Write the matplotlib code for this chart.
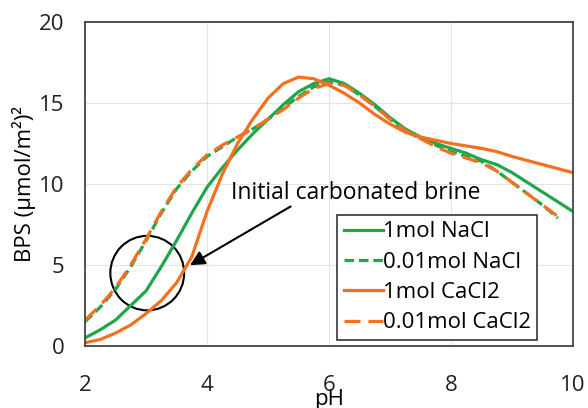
import matplotlib
matplotlib.use("Agg")
import matplotlib.pyplot as plt
from matplotlib.patches import Ellipse

plt.rcParams['font.family'] = ['Open Sans', 'DejaVu Sans']

# pH values
ph = [2.0, 2.25, 2.5, 2.75, 3.0, 3.25, 3.5, 3.75, 4.0, 4.25, 4.5, 4.75, 5.0,
      5.25, 5.5, 5.75, 6.0, 6.25, 6.5, 6.75, 7.0, 7.25, 7.5, 7.75, 8.0, 8.25,
      8.5, 8.75, 9.0, 9.25, 9.5, 9.75, 10.0]

nacl_1 = [0.5, 1.0, 1.6, 2.5, 3.4, 4.9, 6.5, 8.2, 9.8, 11.0, 12.1, 13.1, 14.0,
          14.9, 15.7, 16.2, 16.5, 16.2, 15.6, 14.9, 14.1, 13.4, 12.9, 12.5, 12.2, 11.9,
          11.5, 11.2, 10.7, 10.1, 9.5, 8.9, 8.3]

cacl2_1 = [0.2, 0.4, 0.8, 1.3, 2.0, 2.8, 3.9, 5.5, 8.3, 10.6, 12.5, 14.0, 15.3,
           16.2, 16.6, 16.5, 16.1, 15.6, 15.0, 14.3, 13.7, 13.2, 12.9, 12.7, 12.5, 12.35,
           12.2, 12.0, 11.7, 11.45, 11.2, 10.95, 10.7]

ph_low = ph[:-1]
nacl_001 = [1.5, 2.4, 3.5, 4.9, 6.5, 8.2, 9.7, 10.8, 11.7, 12.3, 12.9, 13.4, 14.0,
            14.7, 15.4, 16.0, 16.3, 16.1, 15.5, 14.8, 14.0, 13.3, 12.8, 12.4, 12.0, 11.7,
            11.4, 10.8, 10.1, 9.4, 8.7, 7.9]
cacl2_001 = [1.6, 2.5, 3.6, 5.0, 6.6, 8.3, 9.8, 10.9, 11.8, 12.4, 12.9, 13.4, 14.0,
             14.6, 15.3, 15.9, 16.2, 16.1, 15.5, 14.8, 14.0, 13.3, 12.8, 12.3, 11.9, 11.6,
             11.3, 10.8, 10.1, 9.4, 8.7, 8.0]

green = '#1fa64a'
orange = '#f4701f'

fig = plt.figure(figsize=(5.88, 4.08), dpi=100)
ax = fig.add_axes([0.1446, 0.152, 0.83, 0.794])

ax.plot(ph, nacl_1, color=green, lw=2.3, label='1mol NaCl')
ax.plot(ph_low, nacl_001, color=green, lw=2.3, dashes=(3, 1.5), label='0.01mol NaCl')
ax.plot(ph, cacl2_1, color=orange, lw=2.3, label='1mol CaCl2')
ax.plot(ph_low, cacl2_001, color=orange, lw=2.3, dashes=(5, 2.5), label='0.01mol CaCl2')

ax.set_xlim(2, 10)
ax.set_ylim(0, 20)
ax.set_xticks([2, 4, 6, 8, 10])
ax.set_yticks([0, 5, 10, 15, 20])
ax.grid(True, color='#e4e4e4', lw=0.8)
ax.set_axisbelow(True)
ax.tick_params(length=0, labelsize=16, colors='#222222')
ax.tick_params(axis='x', pad=21)
ax.tick_params(axis='y', pad=15)
for s in ax.spines.values():
    s.set_color('#444444')
    s.set_linewidth(1.3)

ax.set_xlabel('pH', fontsize=16, labelpad=-5)
ax.set_ylabel('BPS (µmol/m²)²', fontsize=16, labelpad=2)

circ = Ellipse((3.02, 4.5), width=1.21, height=4.6, fill=False, edgecolor='black', lw=1.5)
ax.add_patch(circ)

ax.text(4.4, 9.45, 'Initial carbonated brine', fontsize=16.5, va='center', ha='left')
ax.annotate('', xy=(3.68, 4.9), xytext=(5.41, 8.7),
            arrowprops=dict(arrowstyle='-|>', color='black', lw=1.5, mutation_scale=22))

leg = ax.legend(loc='lower right', bbox_to_anchor=(0.927, 0.018), fontsize=16,
                handlelength=1.75, handletextpad=0.0, borderpad=0.3, labelspacing=0.42,
                borderaxespad=0.0, fancybox=False, edgecolor='#333333', framealpha=1)
leg.get_frame().set_linewidth(1.2)

fig.savefig('out.png', dpi=100)
